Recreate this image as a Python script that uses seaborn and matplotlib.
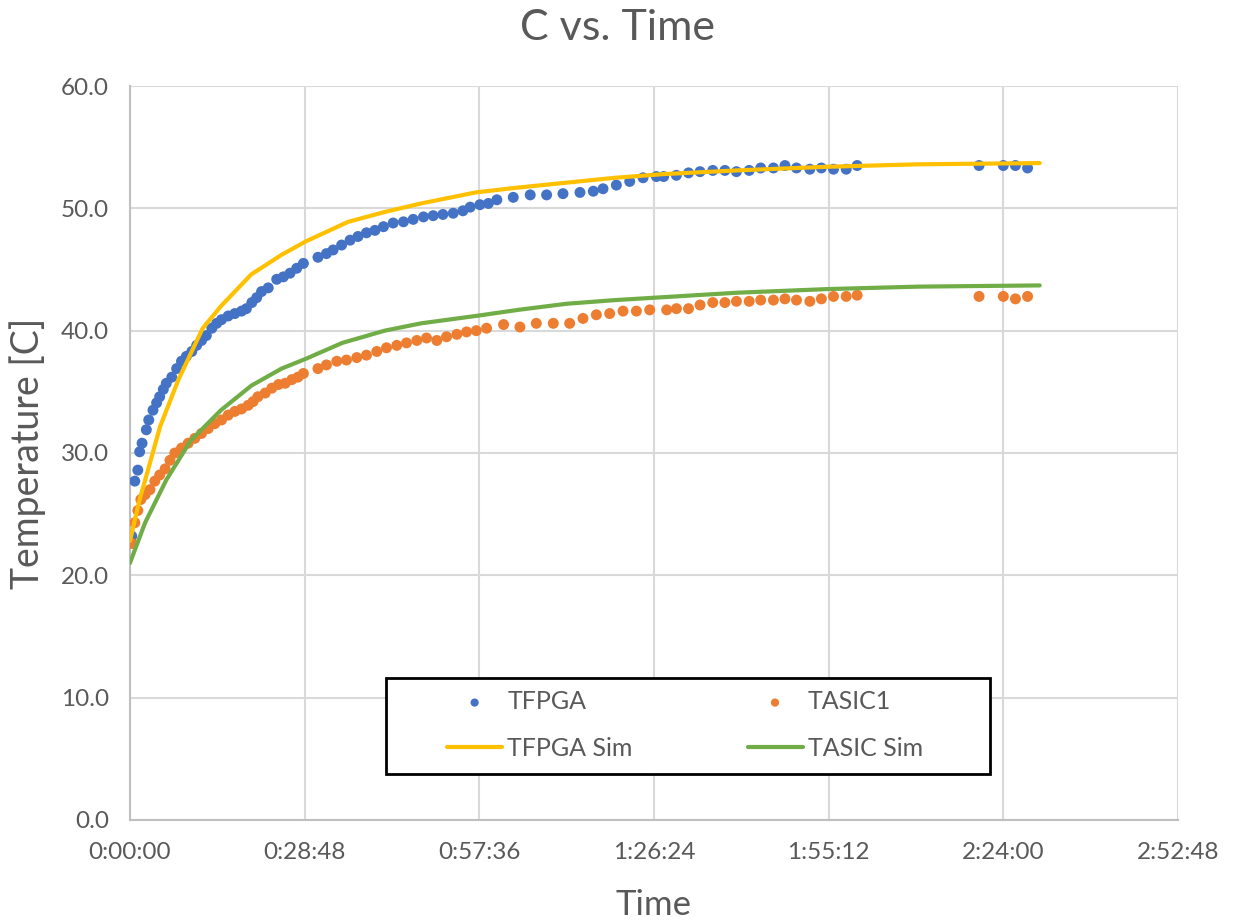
import numpy as np
import pandas as pd
import matplotlib
matplotlib.use("Agg")
import matplotlib.pyplot as plt
import seaborn as sns
from matplotlib.ticker import FuncFormatter, MultipleLocator
from matplotlib.patches import Rectangle

# measured data (time in minutes, temperature in C)
fpga_t = [0.3, 0.8, 1.3, 1.6, 2.0, 2.7, 3.1, 3.8, 4.4, 4.9, 5.5, 6.0, 6.9, 7.7, 8.5, 9.3,
          10.2, 11.0, 11.8, 12.6, 13.5, 14.3, 15.1, 16.2, 17.3, 18.4, 19.2, 20.1, 20.9, 21.7,
          22.8, 24.2, 25.3, 26.4, 27.5, 28.6, 31.0, 32.4, 33.5, 34.9, 36.3, 37.6, 39.0, 40.4,
          41.8, 43.4, 45.1, 46.7, 48.4, 50.0, 51.6, 53.3, 54.9, 56.1, 57.7, 59.1, 60.5, 63.2,
          66.0, 68.7, 71.4, 74.2, 76.4, 78.0, 80.2, 82.4, 84.6, 86.8, 88.0, 90.1, 92.1, 94.0,
          96.1, 98.1, 100.0, 102.1, 104.0, 106.1, 108.0, 109.9, 112.1, 114.0, 116.0, 118.1,
          119.9, 140.0, 144.0, 146.0, 148.0]
fpga_temp = [23.2, 27.7, 28.6, 30.1, 30.8, 31.9, 32.7, 33.5, 34.1, 34.6, 35.2, 35.7, 36.2, 36.9,
             37.5, 37.9, 38.3, 38.8, 39.2, 39.6, 40.2, 40.6, 40.9, 41.2, 41.4, 41.6, 41.8, 42.3,
             42.7, 43.2, 43.5, 44.2, 44.4, 44.7, 45.1, 45.5, 46.0, 46.3, 46.6, 47.0, 47.4, 47.7,
             48.0, 48.2, 48.5, 48.8, 48.9, 49.1, 49.3, 49.4, 49.5, 49.6, 49.8, 50.1, 50.3, 50.4,
             50.7, 50.9, 51.1, 51.1, 51.2, 51.3, 51.4, 51.6, 51.9, 52.2, 52.5, 52.6, 52.6, 52.7,
             52.9, 53.0, 53.1, 53.1, 53.0, 53.1, 53.3, 53.3, 53.5, 53.3, 53.2, 53.3, 53.2, 53.2,
             53.5, 53.5, 53.5, 53.5, 53.3]

asic_t = [0.3, 0.8, 1.3, 1.8, 2.5, 3.3, 4.1, 4.9, 5.8, 6.6, 7.4, 8.5, 9.6, 10.7, 11.8, 12.9,
          14.0, 15.1, 16.2, 17.3, 18.4, 19.5, 20.3, 21.1, 22.3, 23.4, 24.5, 25.6, 26.7, 27.7,
          28.6, 31.0, 32.4, 34.1, 35.7, 37.4, 39.0, 40.7, 42.3, 44.0, 45.6, 47.3, 48.9, 50.6,
          52.2, 53.9, 55.5, 57.1, 58.8, 61.6, 64.3, 67.0, 69.8, 72.5, 74.7, 76.9, 79.1, 81.3,
          83.5, 85.7, 88.5, 90.1, 92.1, 94.0, 96.1, 98.1, 100.0, 102.1, 104.0, 106.1, 108.0,
          109.9, 112.1, 114.0, 116.0, 118.1, 119.9, 140.0, 144.0, 146.0, 148.0]
asic_temp = [22.6, 24.3, 25.3, 26.2, 26.6, 27.0, 27.7, 28.2, 28.7, 29.4, 30.0, 30.4, 30.8, 31.2,
             31.6, 32.0, 32.4, 32.7, 33.1, 33.4, 33.6, 33.9, 34.2, 34.6, 34.9, 35.3, 35.6, 35.7,
             36.0, 36.2, 36.5, 36.9, 37.2, 37.5, 37.6, 37.8, 38.0, 38.3, 38.6, 38.8, 39.0, 39.2,
             39.4, 39.2, 39.5, 39.7, 39.9, 40.0, 40.2, 40.5, 40.3, 40.6, 40.6, 40.6, 41.0, 41.3,
             41.4, 41.6, 41.6, 41.7, 41.7, 41.8, 41.8, 42.1, 42.3, 42.3, 42.4, 42.4, 42.5, 42.5,
             42.6, 42.5, 42.4, 42.6, 42.8, 42.8, 42.9, 42.8, 42.8, 42.6, 42.8]

# simulation curves
fpga_sim_t = [0, 1.5, 5, 8, 12, 15, 20, 25, 29, 36, 42, 48, 57, 64, 72, 80, 88, 100, 115, 130, 150]
fpga_sim = [22.8, 26.0, 32.2, 36.0, 40.2, 42.0, 44.6, 46.2, 47.3, 48.9, 49.7, 50.4, 51.3, 51.7,
            52.1, 52.5, 52.8, 53.1, 53.4, 53.6, 53.7]
asic_sim_t = [0, 2.5, 6, 10, 15, 20, 25, 29, 35, 42, 48, 57, 64, 72, 80, 90, 100, 115, 130, 150]
asic_sim = [21.0, 24.3, 27.8, 31.0, 33.5, 35.5, 36.9, 37.7, 39.0, 40.0, 40.6, 41.2, 41.7, 42.2,
            42.5, 42.8, 43.1, 43.4, 43.6, 43.7]

sns.set_style("white")
plt.rcParams['font.family'] = ['Lato', 'DejaVu Sans']
gray = "#595959"

fig = plt.figure(figsize=(12.34, 9.21), dpi=100)
ax = fig.add_axes([0.1053, 0.1097, 0.8493, 0.7969])

sns.scatterplot(x=fpga_t, y=fpga_temp, ax=ax, color="#4472C4", s=62, edgecolor="none",
                label="TFPGA", zorder=3)
sns.scatterplot(x=asic_t, y=asic_temp, ax=ax, color="#ED7D31", s=62, edgecolor="none",
                label="TASIC1", zorder=3)
sns.lineplot(x=fpga_sim_t, y=fpga_sim, ax=ax, color="#FFC000", linewidth=3, label="TFPGA Sim",
             zorder=4, sort=False)
sns.lineplot(x=asic_sim_t, y=asic_sim, ax=ax, color="#70AD47", linewidth=3, label="TASIC Sim",
             zorder=4, sort=False)

ax.set_xlim(0, 172.8)
ax.set_ylim(0, 60)
ax.xaxis.set_major_locator(MultipleLocator(28.8))
ax.yaxis.set_major_locator(MultipleLocator(10))


def hms(v, pos):
    s = int(round(v * 60))
    return f"{s // 3600}:{(s % 3600) // 60:02d}:{s % 60:02d}"


ax.xaxis.set_major_formatter(FuncFormatter(hms))
ax.yaxis.set_major_formatter(FuncFormatter(lambda v, p: f"{v:.1f}"))
ax.grid(True, color="#D9D9D9", linewidth=1.5)
for sp in ["top", "right"]:
    ax.spines[sp].set_visible(False)
for sp in ["left", "bottom"]:
    ax.spines[sp].set_color("#BFBFBF")
    ax.spines[sp].set_linewidth(1.5)
ax.tick_params(length=0, labelsize=17.5, labelcolor=gray)
ax.tick_params(axis="x", pad=16)
ax.tick_params(axis="y", pad=15)

fig.text(0.5, 1 - 28 / 921, "C vs. Time", fontsize=31, color=gray, ha="center", va="center")
ax.set_xlabel("Time", fontsize=25, color=gray, va="center")
ax.xaxis.set_label_coords(0.5, (820 - 905) / -734)
ax.xaxis.set_label_coords(0.5, -(905 - 820) / 734)
ax.set_ylabel("Temperature [C]", fontsize=27, color=gray, va="center")
ax.yaxis.set_label_coords(-(130 - 28) / 1048, 0.5)

# legend box
ax.add_patch(Rectangle((0.2443, 0.0627), 0.5763, 0.1308, transform=ax.transAxes,
                       facecolor="white", edgecolor="black", linewidth=2, zorder=5))
h, l = ax.get_legend_handles_labels()
order = [0, 2, 1, 3]
leg = ax.legend([h[i] for i in order], [l[i] for i in order], ncol=2, loc="center",
                bbox_to_anchor=(0.5295, 0.1294), frameon=False,
                fontsize=18, markerscale=0.75, handlelength=2.2, handletextpad=0.2,
                labelspacing=0.95, columnspacing=4.6)
leg.set_zorder(6)
for t in leg.get_texts():
    t.set_color(gray)

plt.savefig("out.png", dpi=100)
